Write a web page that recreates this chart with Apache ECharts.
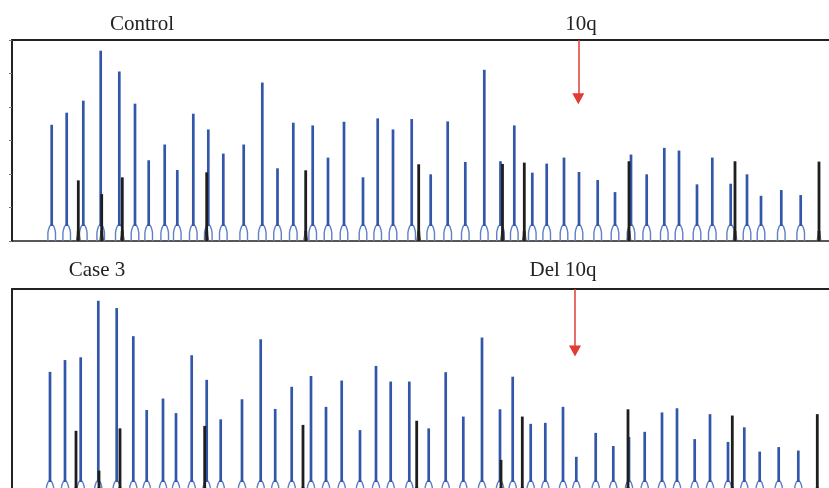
<!doctype html>
<html lang="en">
<head>
    <meta charset="UTF-8">
    <title>MLPA peaks</title>
    <style>
        html, body {margin: 0; padding: 0; background: #fff;}
        #chart {width: 829px; height: 488px;}
    </style>
</head>
<body>
<div id="chart"></div>
<script src="https://cdn.jsdelivr.net/npm/echarts@6/dist/echarts.min.js"></script>
<script>
    // peak positions (x) and heights (relative units, 0..6)
    var ctrlBluePos = [51.7, 66.7, 83.3, 100.7, 119.3, 135, 148.7, 164.7, 177.3, 193.3, 208.3, 223.3, 243.7, 262.3, 277.5, 293.3, 312.7, 328, 344, 363, 377.7, 393, 411.7, 430.7, 447.7, 465.3, 484.3, 500.5, 514.3, 532.3, 546.7, 564, 579, 597.7, 615, 631, 646.7, 664.3, 679, 697, 712.3, 730.7, 747, 761, 781.3, 800.7];
    var ctrlBlueH = [3.47, 3.83, 4.19, 5.68, 5.06, 4.10, 2.41, 2.88, 2.12, 3.80, 3.33, 2.61, 2.88, 4.73, 2.17, 3.53, 3.45, 2.49, 3.56, 1.90, 3.66, 3.33, 3.64, 1.99, 3.57, 2.36, 5.11, 2.38, 3.45, 2.04, 2.31, 2.49, 2.06, 1.82, 1.46, 2.58, 1.99, 2.78, 2.70, 1.69, 2.49, 1.71, 1.99, 1.35, 1.52, 1.37];
    var ctrlBlackPos = [78.3, 101.7, 122.3, 206.7, 305.7, 418.7, 502.5, 524.3, 629, 735, 819];
    var ctrlBlackH = [1.81, 1.40, 1.90, 2.05, 2.11, 2.29, 2.30, 2.34, 2.38, 2.38, 2.37];

    var caseBluePos = [50, 65, 80.7, 98.3, 116.7, 133.3, 146.7, 163, 176, 191.7, 206.7, 220.7, 242, 260.7, 275.2, 291.7, 311, 326, 341.7, 360, 376, 390.7, 409.3, 428.7, 445.7, 463.3, 482, 500, 512.7, 530.7, 545.3, 563, 576.3, 595.7, 613.3, 629, 644.7, 662, 677, 694.7, 710, 728, 744.3, 759.7, 778.7, 798.3];
    var caseBlueH = [3.61, 3.95, 4.03, 5.66, 5.45, 4.64, 2.51, 2.84, 2.42, 4.09, 3.38, 2.24, 2.82, 4.55, 2.54, 3.18, 3.49, 2.60, 3.36, 1.93, 3.78, 3.33, 3.33, 1.98, 3.60, 2.32, 4.60, 2.53, 3.47, 2.11, 2.14, 2.60, 1.16, 1.85, 1.47, 1.73, 1.88, 2.44, 2.56, 1.67, 2.39, 1.59, 2.01, 1.31, 1.44, 1.34];
    var caseBlackPos = [76, 99, 120, 204.7, 303, 416.7, 501, 522.3, 628, 732.3, 817.3];
    var caseBlackH = [1.91, 0.76, 1.98, 2.05, 2.08, 2.20, 1.07, 2.32, 2.53, 2.35, 2.39];

    // arrows: position, start (top) and end heights
    var ctrlArrow = [578.3, 6, 4.25];
    var caseArrow = [575, 6, 4.21];

    function pairs(xs, hs) {
        return xs.map(function (x, i) { return [x, hs[i]]; });
    }

    var BLUE = '#3256aa', BLUE_LIGHT = '#5f80c6', DARK = '#1e1e1e';

    function bluePeak(params, api) {
        var p = api.coord([api.value(0), 0]);
        var t = api.coord([api.value(0), api.value(1)]);
        var xc = p[0], base = p[1], top = t[1];
        var archTop = Math.max(top + 3, base - 16);
        var w = 3.8;
        return {
            type: 'group',
            children: [
                {
                    type: 'polyline',
                    shape: {points: [
                        [xc - w, base], [xc - w, base - 8], [xc - w + 0.5, base - 11],
                        [xc - 2.2, archTop + 1.5], [xc - 1, archTop],
                        [xc + 1, archTop], [xc + 2.2, archTop + 1.5],
                        [xc + w - 0.5, base - 11], [xc + w, base - 8], [xc + w, base]
                    ]},
                    style: {stroke: BLUE_LIGHT, lineWidth: 1.4, fill: null}
                },
                {
                    type: 'polyline',
                    shape: {points: [[xc, archTop + 1], [xc, top]]},
                    style: {stroke: BLUE, lineWidth: 2.7, fill: null}
                }
            ]
        };
    }

    function blackPeak(params, api) {
        var p = api.coord([api.value(0), 0]);
        var t = api.coord([api.value(0), api.value(1)]);
        var xc = p[0], base = p[1], top = t[1];
        return {
            type: 'group',
            children: [
                {
                    type: 'polyline',
                    shape: {points: [[xc - 2, base], [xc - 1.2, base - 6], [xc - 1, base - 10],
                        [xc + 1, base - 10], [xc + 1.2, base - 6], [xc + 2, base]]},
                    style: {stroke: '#555', lineWidth: 1, fill: null}
                },
                {
                    type: 'polyline',
                    shape: {points: [[xc, base], [xc, top]]},
                    style: {stroke: DARK, lineWidth: 2.8, fill: null}
                }
            ]
        };
    }

    function arrowLine(a) {
        return {
            silent: true,
            symbol: ['none', 'triangle'],
            symbolSize: [12, 11],
            label: {show: false},
            lineStyle: {color: '#e23b33', width: 1.5, type: 'solid'},
            data: [[{coord: [a[0], a[1]]}, {coord: [a[0], a[2]]}]]
        };
    }

    function xAx(gi, pos, w) {
        return {
            gridIndex: gi, type: 'value', min: 12, max: 829, position: pos,
            axisLine: {show: true, lineStyle: {color: '#222', width: w}},
            axisTick: {show: false}, axisLabel: {show: false}, splitLine: {show: false}
        };
    }

    function yAx(gi, ticks) {
        return {
            gridIndex: gi, type: 'value', min: 0, max: 6, interval: 1,
            axisLine: {show: true, lineStyle: {color: '#222', width: 2}},
            axisTick: {show: ticks, inside: false, length: 3, lineStyle: {color: '#777', width: 1}},
            axisLabel: {show: false}, splitLine: {show: false}
        };
    }

    function titleText(txt, x, y) {
        return {
            type: 'text', x: x, y: y,
            style: {text: txt, fontFamily: '"Liberation Serif", serif', fontSize: 21, fill: '#222',
                align: 'center', verticalAlign: 'middle'}
        };
    }

    var chart = echarts.init(document.getElementById('chart'), null, {renderer: 'canvas'});
    chart.setOption({
        animation: false,
        backgroundColor: '#fff',
        grid: [
            {left: 12, right: 0, top: 40, height: 201, outerBoundsMode: 'none', containLabel: false},
            // the lower panel runs past the bottom edge of the picture
            {left: 12, right: 0, top: 289, height: 208, outerBoundsMode: 'none', containLabel: false}
        ],
        xAxis: [xAx(0, 'bottom', 1.5), xAx(0, 'top', 2), xAx(1, 'bottom', 1.5), xAx(1, 'top', 2)],
        yAxis: [yAx(0, true), yAx(1, false)],
        graphic: [
            titleText('Control', 142, 24),
            titleText('10q', 581, 24),
            titleText('Case 3', 97, 270),
            titleText('Del 10q', 563, 270)
        ],
        series: [
            {type: 'custom', xAxisIndex: 0, yAxisIndex: 0, renderItem: bluePeak,
                data: pairs(ctrlBluePos, ctrlBlueH), encode: {x: 0, y: 1}, markLine: arrowLine(ctrlArrow)},
            {type: 'custom', xAxisIndex: 0, yAxisIndex: 0, renderItem: blackPeak,
                data: pairs(ctrlBlackPos, ctrlBlackH), encode: {x: 0, y: 1}},
            {type: 'custom', xAxisIndex: 2, yAxisIndex: 1, renderItem: bluePeak,
                data: pairs(caseBluePos, caseBlueH), encode: {x: 0, y: 1}, markLine: arrowLine(caseArrow)},
            {type: 'custom', xAxisIndex: 2, yAxisIndex: 1, renderItem: blackPeak,
                data: pairs(caseBlackPos, caseBlackH), encode: {x: 0, y: 1}}
        ]
    });
</script>
</body>
</html>
